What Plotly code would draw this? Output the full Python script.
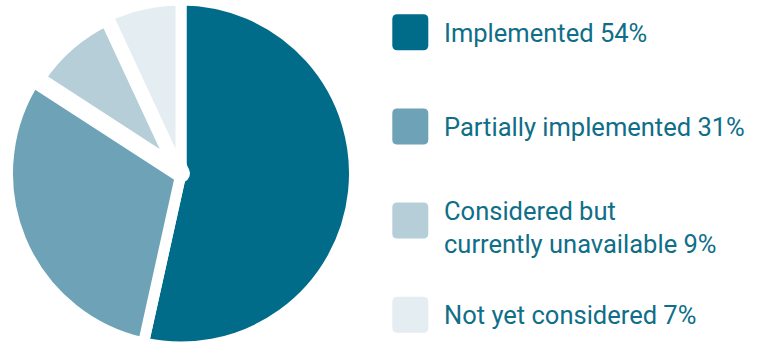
import plotly.graph_objects as go

# ---- data ----
labels = ["Implemented", "Partially implemented",
          "Considered but<br>currently unavailable", "Not yet considered"]
values = [54, 31, 9, 7]
colors = ["#006C8A", "#6DA2B7", "#B6CED8", "#E4EDF1"]
line_widths = [11, 11, 18, 11]

W, H = 761, 347
TEXT_COLOR = "#0F6E88"

fig = go.Figure()
fig.add_trace(go.Pie(
    labels=labels,
    values=values,
    sort=False,
    direction="clockwise",
    rotation=0,
    textinfo="none",
    hoverinfo="label+value",
    marker=dict(colors=colors, line=dict(color="white", width=line_widths)),
    domain=dict(x=[0, 362 / W], y=[0, 1]),
    showlegend=False,
))

# ---- custom legend (rounded squares + text) ----
sq_x0, sq_size, sq_top0, sq_step, rad = 392.3, 36.0, 14.3, 94.15, 5.0


def px(x):
    return x / W


def py(y):
    return 1 - y / H


shapes = []
annotations = []
for i, (lab, val, col) in enumerate(zip(labels, values, colors)):
    x0 = sq_x0
    x1 = sq_x0 + sq_size
    y0 = sq_top0 + i * sq_step
    y1 = y0 + sq_size
    path = (
        f"M {px(x0 + rad)},{py(y0)} L {px(x1 - rad)},{py(y0)} "
        f"Q {px(x1)},{py(y0)} {px(x1)},{py(y0 + rad)} "
        f"L {px(x1)},{py(y1 - rad)} Q {px(x1)},{py(y1)} {px(x1 - rad)},{py(y1)} "
        f"L {px(x0 + rad)},{py(y1)} Q {px(x0)},{py(y1)} {px(x0)},{py(y1 - rad)} "
        f"L {px(x0)},{py(y0 + rad)} Q {px(x0)},{py(y0)} {px(x0 + rad)},{py(y0)} Z"
    )
    shapes.append(dict(type="path", xref="paper", yref="paper", path=path,
                       fillcolor=col, line=dict(width=0), layer="above"))
    nlines = lab.count("<br>") + 1
    yc = y0 + sq_size / 2 + (7 if nlines > 1 else 0.5)
    annotations.append(dict(
        x=px(442), y=py(yc), xref="paper", yref="paper",
        xanchor="left", yanchor="middle", align="left",
        text=f"{lab} {val}%", showarrow=False,
        font=dict(family="Roboto", size=25.5, color=TEXT_COLOR),
    ))

fig.update_layout(
    width=W, height=H,
    margin=dict(l=0, r=0, t=0, b=0),
    paper_bgcolor="white", plot_bgcolor="white",
    shapes=shapes, annotations=annotations,
    showlegend=False,
)

fig.write_html("out.html")
